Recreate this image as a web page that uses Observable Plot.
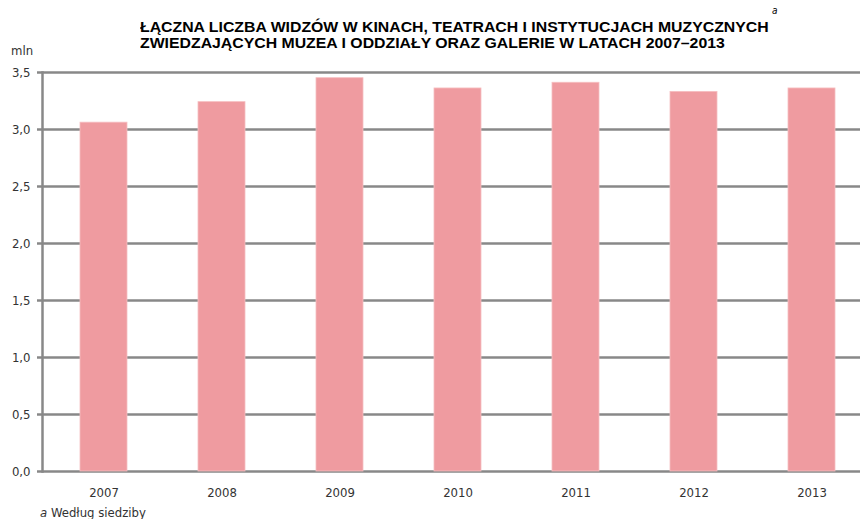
<!DOCTYPE html>
<html>
<head>
<meta charset="utf-8">
<script src="https://cdn.jsdelivr.net/npm/d3@7"></script>
<script src="https://cdn.jsdelivr.net/npm/@observablehq/plot@0.6"></script>
<style>
  html, body { margin: 0; padding: 0; background: #fff; }
  #wrap { width: 860px; height: 519px; position: relative; overflow: hidden; }
  #title { position: relative; height: 56px; font-family: "Liberation Sans", Arial, sans-serif; font-weight: bold; font-size: 14px; color: #000; }
  #title .l1, #title .l2 { position: absolute; left: 140px; white-space: nowrap; transform: scaleX(1.13); transform-origin: 0 0; }
  #title .l1 { top: 19px; }
  #title .l2 { top: 35px; }
  #title .sup { position: absolute; left: 772px; top: 5px; font-style: italic; font-weight: normal; font-size: 10px; font-family: "DejaVu Sans Condensed", sans-serif; }
  #title .unit { position: absolute; left: 11px; top: 43px; font-weight: normal; font-size: 13px; color: #333; font-family: "DejaVu Sans Condensed", sans-serif; }
  #note { height: 16px; font-family: "DejaVu Sans Condensed", sans-serif; font-size: 13px; color: #333; padding-left: 40px; padding-top: 3px; line-height: 13px; box-sizing: border-box; }
  #note i { font-style: italic; }
  svg { display: block; }
</style>
</head>
<body>
<div id="wrap">
  <div id="title">
    <div class="l1">ŁĄCZNA LICZBA WIDZÓW W KINACH, TEATRACH I INSTYTUCJACH MUZYCZNYCH</div>
    <div class="sup">a</div>
    <div class="l2">ZWIEDZAJĄCYCH MUZEA I ODDZIAŁY ORAZ GALERIE W LATACH 2007–2013</div>
    <div class="unit">mln</div>
  </div>
  <div id="chart"></div>
  <div id="note"><i>a</i> Według siedziby</div>
</div>
<script>
const years = ["2007", "2008", "2009", "2010", "2011", "2012", "2013"];
const visitors = [3.06, 3.24, 3.45, 3.36, 3.41, 3.33, 3.36];
const yTicks = [0, 0.5, 1.0, 1.5, 2.0, 2.5, 3.0, 3.5];

const data = years.map((y, i) => ({year: y, value: visitors[i]}));
const fmt = d => d.toFixed(1).replace(".", ",");
const narrow = `"DejaVu Sans Condensed", sans-serif`;

const chart = Plot.plot({
  width: 860,
  height: 447,
  marginLeft: 42,
  marginRight: -13,
  marginTop: 16,
  marginBottom: 32,
  style: {fontFamily: narrow, fontSize: "13px", color: "#333", overflow: "visible"},
  x: {domain: years, paddingInner: 0.6, paddingOuter: 0.3, label: null},
  y: {domain: [0, 3.5], label: null},
  marks: [
    Plot.gridY(yTicks, {stroke: "#888", strokeOpacity: 1, strokeWidth: 2.5}),
    Plot.barY(data, {x: "year", y: "value", fill: "#EF9BA0", stroke: "#F6BEC0", strokeWidth: 0.8, inset: 0}),
    Plot.frame({anchor: "left", stroke: "#888", strokeWidth: 2.5}),
    Plot.axisY(yTicks, {tickSize: 5, tickPadding: 7, stroke: "#888", strokeWidth: 2.5, tickFormat: fmt, fontSize: 13, label: null}),
    Plot.axisX({tickSize: 0, tickPadding: 16, label: null, fontSize: 13})
  ]
});
document.getElementById("chart").appendChild(chart);
</script>
</body>
</html>
